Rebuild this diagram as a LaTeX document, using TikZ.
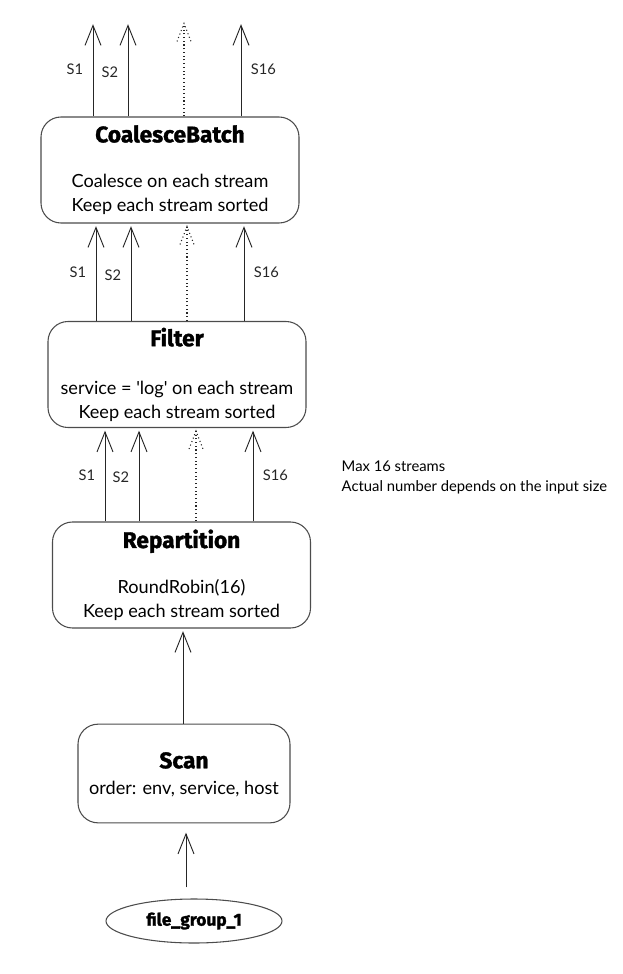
\documentclass[tikz,border=0pt]{standalone}
\usepackage{fontspec}
\setmainfont{Lato}
\newfontfamily\titlefont{Fira Sans}[BoldFeatures={FakeBold=1.5}]
\usetikzlibrary{arrows.meta,shapes.geometric,calc}

\tikzset{
	opbox/.style={draw=black!70,line width=0.8pt,rounded corners=15pt,align=center,inner sep=0pt,
		minimum width=193.5pt,minimum height=79.5pt,font=\fontsize{13.6}{18}\selectfont},
	flow/.style={black!85,line width=0.7pt,shorten >=2pt,-{Straight Barb[length=15pt,width=12pt]}},
	dotflow/.style={black!85,line width=0.8pt,dotted},
	slabel/.style={font=\fontsize{11}{13}\selectfont,inner xsep=7pt},
}
\newcommand{\optitle}[1]{{\titlefont\bfseries\fontsize{17}{18}\selectfont #1}}

\begin{document}
\begin{tikzpicture}[x=0.75pt,y=-0.75pt]
		\useasboundingbox (0,0) rectangle (622,974);
		
		\node[opbox] (coal) at (170,170) {\optitle{CoalesceBatch}\\[16pt] Coalesce on each stream\\ Keep each stream sorted};
		\node[opbox] (filt) at (177,374.5) {\optitle{Filter}\\[18pt] service = \textquotesingle log\textquotesingle{} on each stream\\ Keep each stream sorted};
		\node[opbox] (rep) at (181.5,575) {\optitle{Repartition}\\[16pt] RoundRobin(16)\\ Keep each stream sorted};
		\node[opbox,minimum width=159pt,minimum height=74pt] (scan) at (184,773.5) {\rule{0pt}{14pt}\optitle{Scan}\\[2pt] order: env, service, host};
		\node[draw=black!70,line width=0.8pt,ellipse,inner sep=0pt,minimum width=132pt,minimum height=33pt] (fg) at (194,921) {\optitle{\fontsize{13}{15}\selectfont file\_group\_1}};
		
		\node[anchor=north west,align=left,font=\fontsize{11.1}{15}\selectfont] (note) at (337,456) {Max 16 streams\\ Actual number depends on the input size};
		
		% file group -> scan -> repartition
		\draw[flow,shorten >=7pt] ($(fg.north)+(-8,-11)$) coordinate (f1) -- (f1 |- scan.south);
		\draw[flow] ($(scan.north)+(-1,0)$) coordinate (s1) -- (s1 |- rep.south);
		
		% repartition -> filter
		\draw[flow] ($(rep.north)+(-76.5,0)$) coordinate (r1) -- (r1 |- filt.south) node[slabel,midway,left]{S1};
		\draw[flow] ($(rep.north)+(-42.5,0)$) coordinate (r2) -- (r2 |- filt.south) node[slabel,pos=0.47,left]{S2};
		\draw[dotflow] ($(rep.north)+(14.5,0)$) coordinate (r3) -- ($(r3 |- filt.south)+(0,3)$) coordinate (r3t);
		\draw[dotflow] ($(r3t)+(-7,18)$) -- (r3t) -- ($(r3t)+(7,18)$);
		\draw[flow] ($(rep.north)+(71.5,0)$) coordinate (r4) -- (r4 |- filt.south) node[slabel,midway,right]{S16};
		
		% filter -> coalesce
		\draw[flow] ($(filt.north)+(-81,0)$) coordinate (c1) -- (c1 |- coal.south) node[slabel,midway,left]{S1};
		\draw[flow] ($(filt.north)+(-46,0)$) coordinate (c2) -- (c2 |- coal.south) node[slabel,pos=0.47,left]{S2};
		\draw[dotflow] ($(filt.north)+(10,0)$) coordinate (c3) -- ($(c3 |- coal.south)+(0,3)$) coordinate (c3t);
		\draw[dotflow] ($(c3t)+(-7,18)$) -- (c3t) -- ($(c3t)+(7,18)$);
		\draw[flow] ($(filt.north)+(67,0)$) coordinate (c4) -- (c4 |- coal.south) node[slabel,midway,right]{S16};
		
		% coalesce -> output
		\draw[flow] ($(coal.north)+(-77,0)$) coordinate (o1) -- ++(0,-95) node[slabel,midway,left]{S1};
		\draw[flow] ($(coal.north)+(-42,0)$) coordinate (o2) -- ++(0,-95) node[slabel,pos=0.47,left]{S2};
		\draw[dotflow] ($(coal.north)+(14,0)$) coordinate (o3) -- ++(0,-93) coordinate (o3t);
		\draw[dotflow] ($(o3t)+(-7,18)$) -- (o3t) -- ($(o3t)+(7,18)$);
		\draw[flow] ($(coal.north)+(71,0)$) coordinate (o4) -- ++(0,-95) node[slabel,midway,right]{S16};
	
	\end{tikzpicture}
\end{document}
